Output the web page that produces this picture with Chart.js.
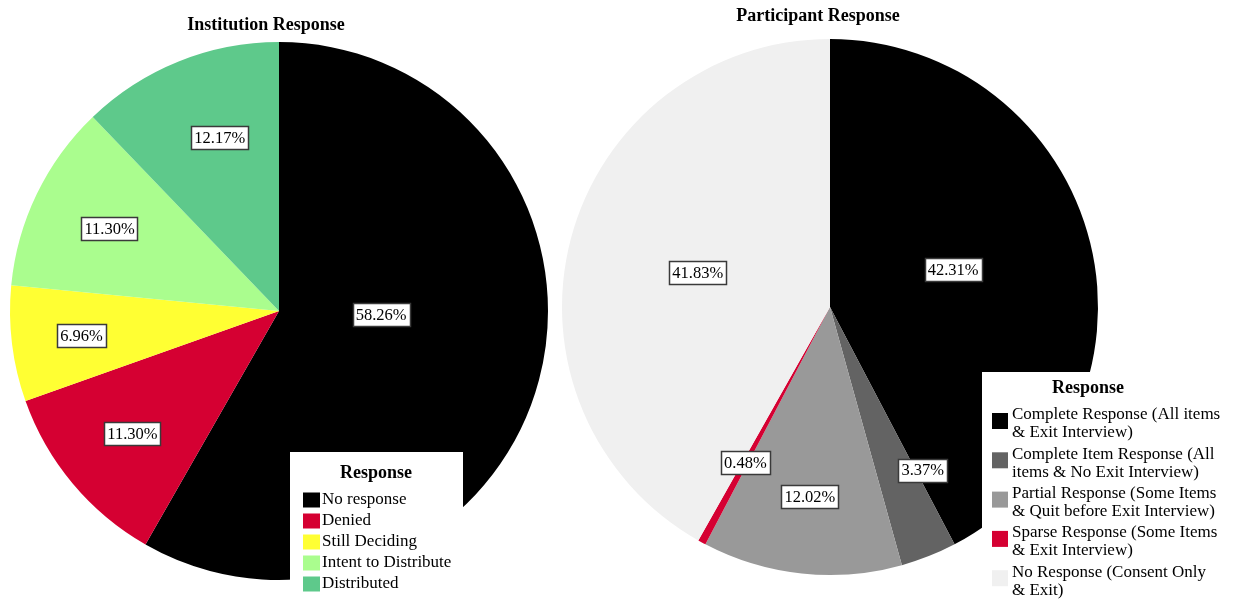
<!DOCTYPE html>
<html>
<head>
<meta charset="utf-8">
<script src="https://cdn.jsdelivr.net/npm/chart.js@4.4.1/dist/chart.umd.min.js"></script>
<style>
  html, body { margin: 0; padding: 0; background: #fff; }
  #wrap { position: relative; width: 1234px; height: 599px; overflow: hidden; }
  canvas { position: absolute; top: 0; }
  #instChart { left: 0; }
  #partChart { left: 560px; }
</style>
</head>
<body>
<div id="wrap">
  <canvas id="instChart" width="560" height="599"></canvas>
  <canvas id="partChart" width="674" height="599"></canvas>
</div>
<script>
// Institution response (percent of institutions)
const instLabels = ["No response", "Denied", "Still Deciding", "Intent to Distribute", "Distributed"];
const instValues = [58.26, 11.30, 6.96, 11.30, 12.17];
const instColors = ["#000000", "#d50032", "#ffff33", "#aafd8e", "#5ec98b"];

// Participant response (percent of participants)
const partLabels = [
  ["Complete Response (All items", "& Exit Interview)"],
  ["Complete Item Response (All", "items & No Exit Interview)"],
  ["Partial Response (Some Items", "& Quit before Exit Interview)"],
  ["Sparse Response (Some Items", "& Exit Interview)"],
  ["No Response (Consent Only", "& Exit)"]
];
const partValues = [42.31, 3.37, 12.02, 0.48, 41.83];
const partColors = ["#000000", "#636363", "#999999", "#d50032", "#f0f0f0"];

const SERIF = '"Liberation Serif", "DejaVu Serif", serif';

// draws the percentage boxes, chart title and the legend panel
const spssPie = {
  id: "spssPie",
  afterDraw(chart, args, opts) {
    const ctx = chart.ctx;
    const ds = chart.data.datasets[0];
    const meta = chart.getDatasetMeta(0);

    ctx.save();
    ctx.font = "16.5px " + SERIF;
    ctx.textAlign = "center";
    ctx.textBaseline = "middle";
    meta.data.forEach((arc, i) => {
      const p = arc.getProps(["x", "y", "startAngle", "endAngle", "outerRadius"], true);
      const place = opts.place[i];
      const mid = (p.startAngle + p.endAngle) / 2 + place[1] * Math.PI / 180;
      const r = p.outerRadius * place[0];
      const cx = p.x + Math.cos(mid) * r;
      const cy = p.y + Math.sin(mid) * r;
      const txt = ds.data[i].toFixed(2) + "%";
      const w = ctx.measureText(txt).width + 6;
      const h = 23;
      ctx.fillStyle = "#fff";
      ctx.fillRect(Math.round(cx - w / 2), Math.round(cy - h / 2), Math.round(w), h);
      ctx.strokeStyle = "#3a3a3a";
      ctx.lineWidth = 1.5;
      ctx.strokeRect(Math.round(cx - w / 2) + 0.5, Math.round(cy - h / 2) + 0.5, Math.round(w), h);
      ctx.fillStyle = "#000";
      ctx.fillText(txt, cx, cy + 1);
    });

    // title
    ctx.font = "bold 18px " + SERIF;
    ctx.fillStyle = "#000";
    ctx.fillText(opts.title, opts.titleX, opts.titleY);

    // legend panel
    const lg = opts.legend;
    ctx.fillStyle = "#fff";
    ctx.fillRect(lg.x, lg.y, lg.w, lg.h);
    ctx.fillStyle = "#000";
    ctx.font = "bold 18px " + SERIF;
    ctx.textAlign = "center";
    ctx.fillText("Response", lg.x + lg.titleDx, lg.y + lg.titleDy);
    ctx.font = "17px " + SERIF;
    ctx.textAlign = "left";
    chart.data.labels.forEach((lab, i) => {
      const lines = Array.isArray(lab) ? lab : [lab];
      const top = lg.y + lg.firstDy + i * lg.step;
      ctx.fillStyle = ds.backgroundColor[i];
      ctx.fillRect(lg.x + lg.swDx, top - lg.swH / 2 + lg.swShift, lg.swW, lg.swH);
      ctx.fillStyle = "#000";
      lines.forEach((ln, k) => {
        ctx.fillText(ln, lg.x + lg.textDx, top + k * lg.lineH);
      });
    });
    ctx.restore();
  }
};

function pieChart(id, labels, values, colors, pad, pluginOpts) {
  return new Chart(document.getElementById(id), {
    type: "pie",
    data: {
      labels: labels,
      datasets: [{ data: values, backgroundColor: colors, borderWidth: 0 }]
    },
    options: {
      responsive: false,
      animation: false,
      layout: { padding: pad },
      plugins: {
        legend: { display: false },
        tooltip: { enabled: false },
        title: { display: false },
        spssPie: pluginOpts
      }
    },
    plugins: [spssPie]
  });
}

pieChart("instChart", instLabels, instValues, instColors,
  { left: 10, right: 12, top: 42, bottom: 19 },
  {
    title: "Institution Response", titleX: 266, titleY: 25,
    place: [[0.38, -13], [0.71, 0], [0.74, 0], [0.70, 0], [0.68, 3]],
    legend: {
      x: 290, y: 452, w: 173, h: 147, titleDx: 86, titleDy: 21,
      firstDy: 48, step: 21, lineH: 0, swDx: 13, swW: 17, swH: 15, swShift: 0, textDx: 32
    }
  });

pieChart("partChart", partLabels, partValues, partColors,
  { left: 2, right: 136, top: 39, bottom: 24 },
  {
    title: "Participant Response", titleX: 258, titleY: 16,
    place: [[0.48, -3], [0.70, -8], [0.71, 0], [0.66, 0], [0.51, 0]],
    legend: {
      x: 422, y: 372, w: 252, h: 227, titleDx: 106, titleDy: 16,
      firstDy: 43, step: 39.3, lineH: 18, swDx: 10, swW: 16, swH: 16, swShift: 6, textDx: 30
    }
  });
</script>
</body>
</html>
